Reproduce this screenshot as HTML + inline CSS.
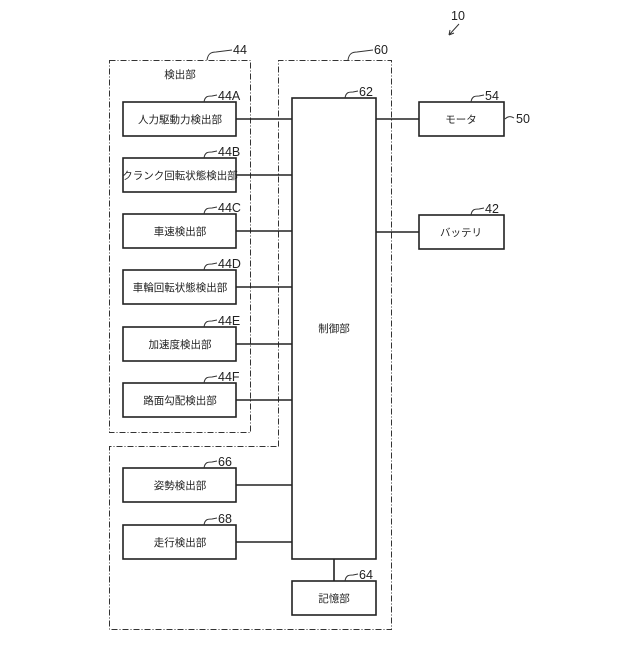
<!DOCTYPE html>
<html><head><meta charset="utf-8"><style>body{margin:0;background:#fff}</style></head><body>
<svg width="640" height="640" viewBox="0 0 640 640" xmlns="http://www.w3.org/2000/svg" font-family="Liberation Sans, Noto Sans CJK JP, sans-serif">
<g fill="none" stroke="#333" stroke-width="1" stroke-dasharray="6,2,1,2">
<rect x="109.5" y="60.5" width="141" height="372"/>
<path d="M278.5 446.5 V60.5 H391.5 V629.5 H109.5 V446.5 Z"/>
</g>
<g fill="#fff" stroke="#222" stroke-width="1.6">
<rect x="123" y="102" width="113" height="34"/>
<rect x="123" y="158" width="113" height="34"/>
<rect x="123" y="214" width="113" height="34"/>
<rect x="123" y="270" width="113" height="34"/>
<rect x="123" y="327" width="113" height="34"/>
<rect x="123" y="383" width="113" height="34"/>
<rect x="123" y="468" width="113" height="34"/>
<rect x="123" y="525" width="113" height="34"/>
<rect x="292" y="98" width="84" height="461"/>
<rect x="292" y="581" width="84" height="34"/>
<rect x="419" y="102" width="85" height="34"/>
<rect x="419" y="215" width="85" height="34"/>
</g>
<g stroke="#222" stroke-width="1.6">
<line x1="236" y1="119" x2="292" y2="119"/>
<line x1="236" y1="175" x2="292" y2="175"/>
<line x1="236" y1="231" x2="292" y2="231"/>
<line x1="236" y1="287" x2="292" y2="287"/>
<line x1="236" y1="344" x2="292" y2="344"/>
<line x1="236" y1="400" x2="292" y2="400"/>
<line x1="236" y1="485" x2="292" y2="485"/>
<line x1="236" y1="542" x2="292" y2="542"/>
<line x1="376" y1="119" x2="419" y2="119"/>
<line x1="376" y1="232" x2="419" y2="232"/>
<line x1="334" y1="559" x2="334" y2="581"/>
</g>
<g font-size="10.5" fill="#222" text-anchor="middle">
<text x="180" y="78">検出部</text>
<text x="180" y="123">人力駆動力検出部</text>
<text x="180" y="179">クランク回転状態検出部</text>
<text x="180" y="235">車速検出部</text>
<text x="180" y="291">車輪回転状態検出部</text>
<text x="180" y="348">加速度検出部</text>
<text x="180" y="404">路面勾配検出部</text>
<text x="180" y="489">姿勢検出部</text>
<text x="180" y="546">走行検出部</text>
<text x="334" y="332">制御部</text>
<text x="334" y="602">記憶部</text>
<text x="461" y="123">モータ</text>
<text x="461" y="236">バッテリ</text>
</g>
<g fill="none" stroke="#333" stroke-width="1">
<path d="M207 60 C208 53,212 52,216 52 L232 50"/>
<path d="M348 60 C349 53,353 52,357 52 L373 50"/>
<path d="M204 102 C205 96,208 96,212 96 L217 95"/>
<path d="M204 158 C205 152,208 152,212 152 L217 151"/>
<path d="M204 214 C205 208,208 208,212 208 L217 207"/>
<path d="M204 270 C205 264,208 264,212 264 L217 263"/>
<path d="M204 327 C205 321,208 321,212 321 L217 320"/>
<path d="M204 383 C205 377,208 377,212 377 L217 376"/>
<path d="M204 468 C205 462,208 462,212 462 L217 461"/>
<path d="M204 525 C205 519,208 519,212 519 L217 518"/>
<path d="M345 98 C346 92,349 92,353 92 L358 91"/>
<path d="M345 581 C346 575,349 575,353 575 L358 574"/>
<path d="M471 102 C472 96,475 96,479 96 L484 95"/>
<path d="M471 215 C472 209,475 209,479 209 L484 208"/>
<path d="M505 119 C508 116,511 116,514 118"/>
<path d="M459 24 L449 35 M449 35 L450 30 M449 35 L454 33"/>
</g>
<g font-size="12.5" fill="#222">
<text x="233" y="54">44</text>
<text x="374" y="54">60</text>
<text x="218" y="100">44A</text>
<text x="218" y="156">44B</text>
<text x="218" y="212">44C</text>
<text x="218" y="268">44D</text>
<text x="218" y="325">44E</text>
<text x="218" y="381">44F</text>
<text x="218" y="466">66</text>
<text x="218" y="523">68</text>
<text x="359" y="96">62</text>
<text x="359" y="579">64</text>
<text x="485" y="100">54</text>
<text x="485" y="213">42</text>
<text x="516" y="123">50</text>
<text x="451" y="20">10</text>
</g>
</svg>
</body></html>
